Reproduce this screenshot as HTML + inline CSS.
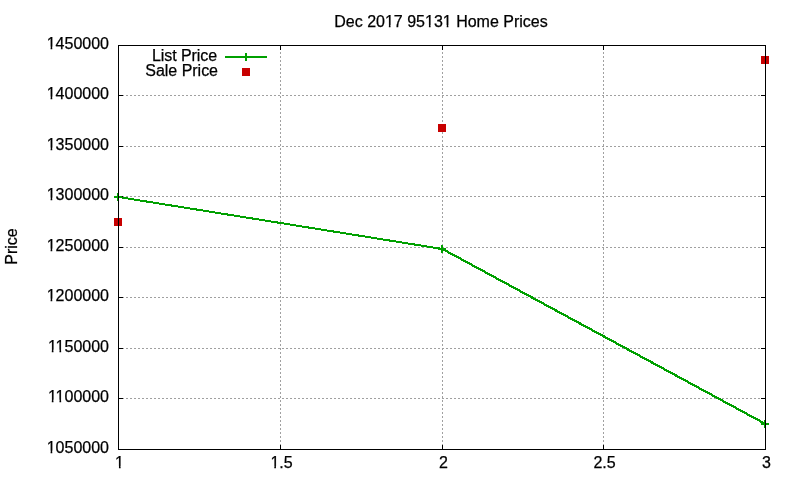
<!DOCTYPE html>
<html lang="en">
<head>
<meta charset="utf-8">
<title>Dec 2017 95131 Home Prices</title>
<style>
html,body{margin:0;padding:0;background:#fff;width:800px;height:480px;overflow:hidden}
</style>
</head>
<body>
<svg width="800" height="480" viewBox="0 0 800 480" style="display:block;position:absolute;left:0;top:0">
<rect x="0" y="0" width="800" height="480" fill="#ffffff"/>
<g stroke="#a0a0a0" stroke-width="1" stroke-dasharray="2 2" shape-rendering="crispEdges" fill="none">
<line x1="118" y1="398.5" x2="766" y2="398.5"/>
<line x1="118" y1="348.5" x2="766" y2="348.5"/>
<line x1="118" y1="297.5" x2="766" y2="297.5"/>
<line x1="118" y1="247.5" x2="766" y2="247.5"/>
<line x1="118" y1="196.5" x2="766" y2="196.5"/>
<line x1="118" y1="146.5" x2="766" y2="146.5"/>
<line x1="118" y1="95.5" x2="766" y2="95.5"/>
<line x1="280.5" y1="450" x2="280.5" y2="45"/>
<line x1="442.5" y1="450" x2="442.5" y2="45"/>
<line x1="603.5" y1="450" x2="603.5" y2="45"/>
</g>
<g fill="#000" shape-rendering="crispEdges">
<rect x="119" y="398" width="4" height="1"/>
<rect x="761" y="398" width="4" height="1"/>
<rect x="119" y="348" width="4" height="1"/>
<rect x="761" y="348" width="4" height="1"/>
<rect x="119" y="297" width="4" height="1"/>
<rect x="761" y="297" width="4" height="1"/>
<rect x="119" y="247" width="4" height="1"/>
<rect x="761" y="247" width="4" height="1"/>
<rect x="119" y="196" width="4" height="1"/>
<rect x="761" y="196" width="4" height="1"/>
<rect x="119" y="146" width="4" height="1"/>
<rect x="761" y="146" width="4" height="1"/>
<rect x="119" y="95" width="4" height="1"/>
<rect x="761" y="95" width="4" height="1"/>
<rect x="280" y="445" width="1" height="4"/>
<rect x="280" y="46" width="1" height="4"/>
<rect x="442" y="445" width="1" height="4"/>
<rect x="442" y="46" width="1" height="4"/>
<rect x="603" y="445" width="1" height="4"/>
<rect x="603" y="46" width="1" height="4"/>
</g>
<g shape-rendering="crispEdges" stroke="#00a000" stroke-width="2" fill="none" stroke-linejoin="miter">
<line x1="118.5" y1="197.0" x2="442.5" y2="249.0"/>
<line x1="442.5" y1="249.0" x2="765.5" y2="424.0" stroke-width="2.25"/>
</g>
<g shape-rendering="crispEdges" fill="#00a000">
<rect x="114" y="196" width="8" height="2"/>
<rect x="117" y="193" width="2" height="8"/>
<rect x="438" y="248" width="8" height="2"/>
<rect x="441" y="245" width="2" height="8"/>
<rect x="761" y="423" width="8" height="2"/>
<rect x="764" y="420" width="2" height="8"/>
<rect x="225" y="56" width="42" height="2"/>
<rect x="245" y="53" width="2" height="8"/>
</g>
<g shape-rendering="crispEdges" fill="#c80000">
<rect x="114" y="218" width="8" height="8"/>
<rect x="438" y="124" width="8" height="8"/>
<rect x="761" y="56" width="8" height="8"/>
<rect x="242" y="68" width="8" height="8"/>
</g>
<g fill="#000" shape-rendering="crispEdges">
<rect x="118" y="45" width="648" height="1"/>
<rect x="118" y="449" width="648" height="1"/>
<rect x="118" y="45" width="1" height="405"/>
<rect x="765" y="45" width="1" height="405"/>
</g>
<g font-family="'Liberation Sans', Arial, sans-serif" font-size="16px" fill="#000" stroke="#000" stroke-width="0.25">
<text x="109" y="452.7" text-anchor="end">1050000</text>
<text x="109" y="401.7" text-anchor="end">1100000</text>
<text x="109" y="351.7" text-anchor="end">1150000</text>
<text x="109" y="300.7" text-anchor="end">1200000</text>
<text x="109" y="250.7" text-anchor="end">1250000</text>
<text x="109" y="199.7" text-anchor="end">1300000</text>
<text x="109" y="149.7" text-anchor="end">1350000</text>
<text x="109" y="98.7" text-anchor="end">1400000</text>
<text x="109" y="48.7" text-anchor="end">1450000</text>
<text x="119.5" y="468" text-anchor="middle">1</text>
<text x="281.5" y="468" text-anchor="middle">1.5</text>
<text x="443.5" y="468" text-anchor="middle">2</text>
<text x="604.5" y="468" text-anchor="middle">2.5</text>
<text x="766.5" y="468" text-anchor="middle">3</text>
<text x="441" y="27" text-anchor="middle">Dec 2017 95131 Home Prices</text>
<text x="217" y="61" text-anchor="end" letter-spacing="-0.07">List Price</text>
<text x="218" y="76" text-anchor="end" letter-spacing="-0.02">Sale Price</text>
<text transform="translate(17,246.5) rotate(-90)" text-anchor="middle">Price</text>
</g>
<g fill="#ffffff">
<rect x="46.40" y="450.70" width="4.20" height="3.6"/>
<rect x="52.26" y="450.70" width="3.64" height="3.6"/>
<rect x="47.59" y="399.70" width="4.20" height="3.6"/>
<rect x="53.45" y="399.70" width="3.64" height="3.6"/>
<rect x="55.29" y="399.70" width="4.20" height="3.6"/>
<rect x="61.15" y="399.70" width="3.64" height="3.6"/>
<rect x="47.59" y="349.70" width="4.20" height="3.6"/>
<rect x="53.45" y="349.70" width="3.64" height="3.6"/>
<rect x="55.29" y="349.70" width="4.20" height="3.6"/>
<rect x="61.15" y="349.70" width="3.64" height="3.6"/>
<rect x="46.40" y="298.70" width="4.20" height="3.6"/>
<rect x="52.26" y="298.70" width="3.64" height="3.6"/>
<rect x="46.40" y="248.70" width="4.20" height="3.6"/>
<rect x="52.26" y="248.70" width="3.64" height="3.6"/>
<rect x="46.40" y="197.70" width="4.20" height="3.6"/>
<rect x="52.26" y="197.70" width="3.64" height="3.6"/>
<rect x="46.40" y="147.70" width="4.20" height="3.6"/>
<rect x="52.26" y="147.70" width="3.64" height="3.6"/>
<rect x="46.40" y="96.70" width="4.20" height="3.6"/>
<rect x="52.26" y="96.70" width="3.64" height="3.6"/>
<rect x="46.40" y="46.70" width="4.20" height="3.6"/>
<rect x="52.26" y="46.70" width="3.64" height="3.6"/>
<rect x="114.75" y="466.00" width="4.20" height="3.6"/>
<rect x="120.61" y="466.00" width="3.64" height="3.6"/>
<rect x="270.08" y="466.00" width="4.20" height="3.6"/>
<rect x="275.94" y="466.00" width="3.64" height="3.6"/>
<rect x="384.66" y="25.00" width="4.20" height="3.6"/>
<rect x="390.52" y="25.00" width="3.64" height="3.6"/>
<rect x="424.71" y="25.00" width="4.20" height="3.6"/>
<rect x="430.57" y="25.00" width="3.64" height="3.6"/>
<rect x="442.50" y="25.00" width="4.20" height="3.6"/>
<rect x="448.36" y="25.00" width="3.64" height="3.6"/>
</g>
</svg>
</body>
</html>
